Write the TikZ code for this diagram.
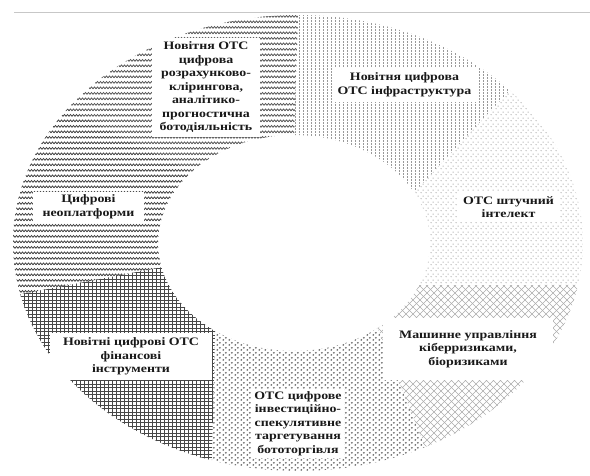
\documentclass[tikz,border=0pt]{standalone}
\usepackage{fontspec}
\newfontfamily\lblfont{Liberation Serif}[FakeStretch=1.22]
\usetikzlibrary{patterns.meta,calc}

\tikzdeclarepattern{
  name=wavyrows,
  type=uncolored,
  bounding box={(-1pt,0pt) and (4pt,5.5pt)},
  tile size={(3pt,5.5pt)},
  code={
    \draw[line width=0.75pt] (-0.75pt,2.2pt) -- (0pt,1.4pt) -- (0.75pt,2.2pt) -- (1.5pt,3pt) -- (2.25pt,2.2pt) -- (3pt,1.4pt) -- (3.75pt,2.2pt);
  }
}
\tikzdeclarepattern{
  name=gridrows,
  type=uncolored,
  bounding box={(-0.5pt,-0.5pt) and (4.5pt,4pt)},
  tile size={(4pt,3.5pt)},
  code={
    \draw[line width=0.75pt] (-0.5pt,0pt) -- (4.5pt,0pt);
    \draw[line width=0.75pt] (0pt,-0.5pt) -- (0pt,4pt);
  }
}
\tikzdeclarepattern{
  name=middots,
  type=uncolored,
  bounding box={(0pt,0pt) and (6pt,5pt)},
  tile size={(6pt,5pt)},
  code={
    \fill (1.5pt,1.25pt) circle (1.15pt);
    \fill (4.5pt,3.75pt) circle (1.15pt);
  }
}
\tikzdeclarepattern{
  name=smalldots,
  type=uncolored,
  bounding box={(0pt,0pt) and (5pt,6pt)},
  tile size={(5pt,6pt)},
  code={
    \fill (1.25pt,1.5pt) circle (0.65pt);
    \fill (3.75pt,4.5pt) circle (0.65pt);
  }
}
\tikzdeclarepattern{
  name=xhatch,
  type=uncolored,
  bounding box={(-0.5pt,-0.5pt) and (7.5pt,7.5pt)},
  tile size={(7pt,7pt)},
  code={
    \draw[line width=0.55pt] (0pt,0pt) -- (7pt,7pt);
    \draw[line width=0.55pt] (0pt,7pt) -- (7pt,0pt);
  }
}
\tikzdeclarepattern{
  name=vdash,
  type=uncolored,
  bounding box={(0pt,0pt) and (3.5pt,3pt)},
  tile size={(3.5pt,3pt)},
  code={
    \draw[line width=0.9pt] (1.75pt,0.3pt) -- (1.75pt,2.4pt);
  }
}

% #1 style, #2 outer start, #3 outer end, #4 inner start, #5 inner end
\newcommand\donutseg[5]{%
  \path[#1] ($(oc)+(#2:285pt and 228pt)$)
    arc[start angle=#2, end angle=#3, x radius=285pt, y radius=228pt]
    -- ($(ic)+(#5:136pt and 108pt)$)
    arc[start angle=#5, end angle=#4, x radius=136pt, y radius=108pt]
    -- cycle;}

\tikzset{
  lbl/.style={fill=white, align=center, inner sep=0pt, text=black!90,
    font=\lblfont\bfseries\fontsize{11.4}{13.5}\selectfont},
  segA/.style={pattern=wavyrows, pattern color=black!62},
  segB/.style={pattern=wavyrows, pattern color=black!70},
  segC/.style={pattern=gridrows, pattern color=black!72},
  segD/.style={pattern=middots, pattern color=black!58},
  segE/.style={pattern=xhatch, pattern color=black!32},
  segF/.style={pattern=smalldots, pattern color=black!42},
  segG/.style={pattern=vdash, pattern color=black!40},
  topline/.style={draw=black!22, line width=0.8pt}
}

\begin{document}
\begin{tikzpicture}[x=1pt,y=1pt]
\useasboundingbox (0,0) rectangle (590,475);
\fill[white] (0,0) rectangle (590,475);

\coordinate (oc) at (298,232);
\coordinate (ic) at (294,232);
\coordinate (tl) at (14,463);
\coordinate (tr) at (590,463);
\draw[topline] (tl) -- (tr);

\donutseg{segG}{42}{90}{28}{90}
\donutseg{segA}{90}{144}{90}{139}
\donutseg{segB}{144}{193}{139}{193}
\donutseg{segC}{193}{252.4}{193}{234.5}
\donutseg{segD}{252.4}{296.5}{234.5}{308}
\donutseg{segE}{296.5}{349.4}{308}{337}
\donutseg{segF}{349.4}{402}{337}{388}

\node[lbl, minimum width=108pt, minimum height=99pt] (lA) at (206,387.5)
  {Новітня ОТС\\цифрова\\розрахунково-\\клірингова,\\аналітико-\\прогностична\\ботодіяльність};
\node[lbl, minimum width=145pt, minimum height=34pt] (lG) at (404.5,390)
  {Новітня цифрова\\ОТС інфраструктура};
\node[lbl, minimum width=103pt, minimum height=30pt] (lF) at (508.5,268)
  {ОТС штучний\\інтелект};
\node[lbl, minimum width=111pt, minimum height=30pt] (lB) at (88.5,268)
  {Цифрові\\неоплатформи};
\node[lbl, minimum width=170pt, minimum height=62pt] (lE) at (468,126)
  {Машинне управління\\кіберризиками,\\біоризиками};
\node[lbl, minimum width=162pt, minimum height=47pt] (lC) at (131,118.5)
  {Новітні цифрові ОТС\\фінансові\\інструменти};
\node[lbl, inner sep=2pt] (lD) at (298,51.5)
  {ОТС цифрове\\інвестиційно-\\спекулятивне\\таргетування\\бототоргівля};
\end{tikzpicture}
\end{document}
